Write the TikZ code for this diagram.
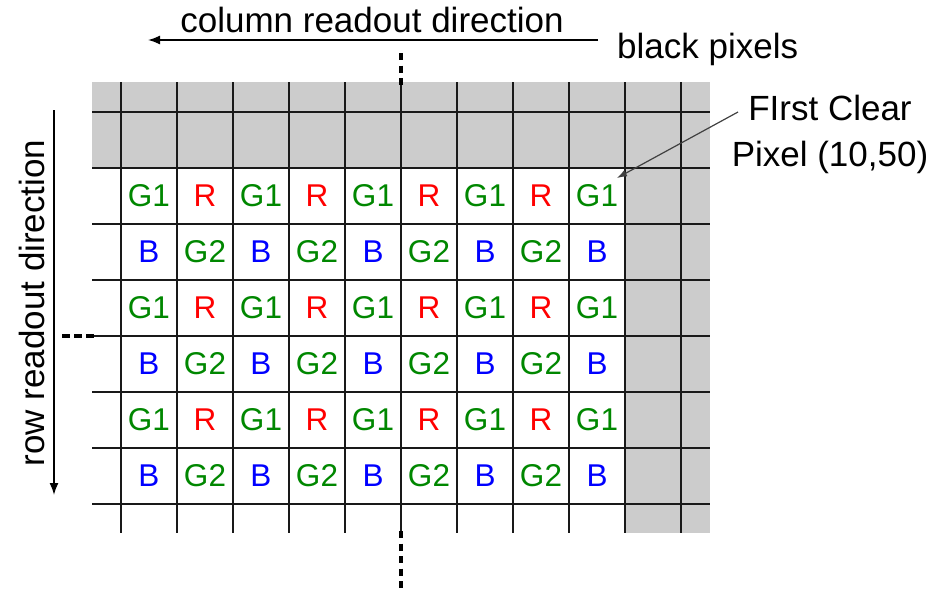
\documentclass[tikz,border=0pt]{standalone}
\usepackage{fontspec}
\setmainfont{Liberation Sans}
\usetikzlibrary{arrows.meta}
\definecolor{pgreen}{RGB}{0,135,0}
\definecolor{pred}{RGB}{255,0,0}
\definecolor{pblue}{RGB}{0,0,255}
\definecolor{blackpix}{RGB}{204,204,204}
\definecolor{gridc}{RGB}{25,25,25}
\begin{document}
\begin{tikzpicture}[x=1pt,y=-1pt,
  gridline/.style={draw=gridc,line width=2pt},
  celllabel/.style={font=\fontsize{31.5}{36}\selectfont,inner sep=0pt,anchor=center},
  bigtext/.style={font=\fontsize{35}{46}\selectfont,inner sep=0pt},
  dirarrow/.style={draw=black,line width=1.6pt,-{Latex[length=12pt,width=9pt]}},
  dotline/.style={draw=black,line width=4.5pt,dash pattern=on 7pt off 5.5pt},
  callout/.style={draw=black!75,line width=1.2pt,-{Latex[length=10pt,width=7pt]}}]
\useasboundingbox (0,0) rectangle (933,589);
% black pixel area
\fill[blackpix] (92,82) rectangle (710,168);
\fill[blackpix] (625,168) rectangle (710,533);
% grid
\foreach \x in {121,177,...,681} \draw[gridline] (\x,82) -- (\x,533);
\foreach \y in {112,168,...,504} \draw[gridline] (92,\y) -- (710,\y);
% cell labels
\foreach \r in {0,...,5}{
  \foreach \c in {0,...,8}{
    \pgfmathtruncatemacro{\rr}{mod(\r,2)}
    \pgfmathtruncatemacro{\cc}{mod(\c,2)}
    \ifnum\rr=0
      \ifnum\cc=0 \def\lab{G1}\def\col{pgreen}\else \def\lab{R}\def\col{pred}\fi
    \else
      \ifnum\cc=0 \def\lab{B}\def\col{pblue}\else \def\lab{G2}\def\col{pgreen}\fi
    \fi
    \node[celllabel,text=\col] (cell-\r-\c) at (149+56*\c,196+56*\r) {\lab};
  }
}
% continuation dots
\coordinate (topdotA) at (401,53);
\coordinate (topdotB) at (401,87);
\draw[dotline] (topdotA) -- (topdotB);
\coordinate (botdotA) at (401,531);
\coordinate (botdotB) at (401,595);
\draw[dotline] (botdotA) -- (botdotB);
\coordinate (leftdotA) at (62,336);
\coordinate (leftdotB) at (96,336);
\draw[dotline,line width=4pt,dash pattern=on 8pt off 4pt] (leftdotA) -- (leftdotB);
% column readout direction
\node[bigtext,anchor=base] (coltext) at (372,32) {column readout direction};
\coordinate (colstart) at (598,40);
\coordinate (colend) at (148,40);
\draw[dirarrow] (colstart) -- (colend);
% row readout direction
\node[bigtext,rotate=90,anchor=base] (rowtext) at (44,303) {row readout direction};
\coordinate (rowstart) at (54,110);
\coordinate (rowend) at (54,495);
\draw[dirarrow] (rowstart) -- (rowend);
% black pixels
\node[bigtext,anchor=base west] (blacktext) at (617,58) {black pixels};
% first clear pixel
\node[bigtext,anchor=base,align=center] (fctext) at (830,166) {FIrst Clear\\Pixel (10,50)};
\coordinate (fcstart) at (738,112);
\coordinate (fcend) at (617,178);
\draw[callout] (fcstart) -- (fcend);
\end{tikzpicture}
\end{document}
